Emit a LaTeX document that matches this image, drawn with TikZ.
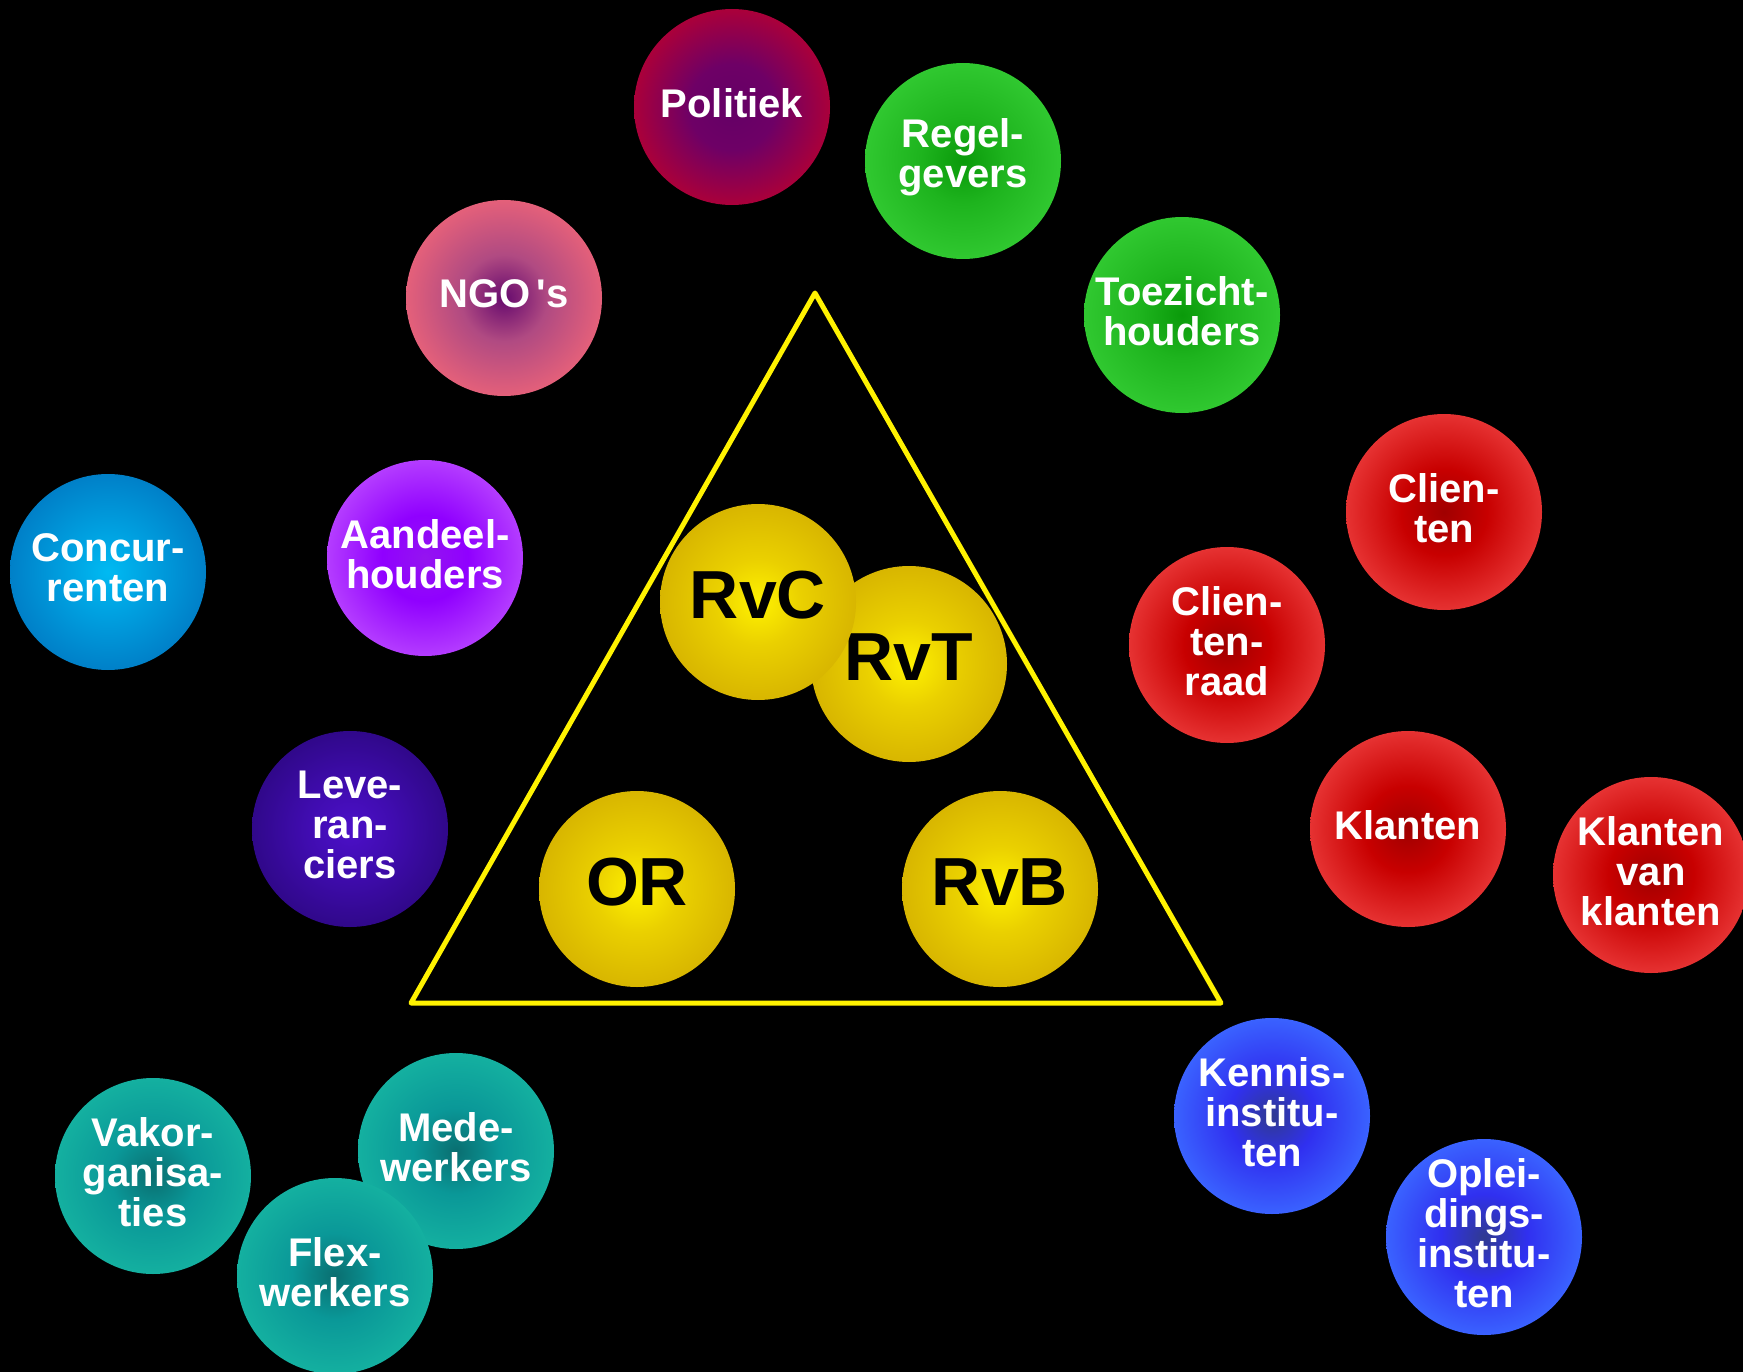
\documentclass[tikz,border=0pt]{standalone}
\usepackage{fontspec}
\setmainfont{Liberation Sans}
\definecolor{polA}{HTML}{640066}\definecolor{polB}{HTML}{6E0066}\definecolor{polC}{HTML}{AA003A}
\definecolor{grA}{HTML}{0A9A0A}\definecolor{grB}{HTML}{1EB41E}\definecolor{grC}{HTML}{30C830}
\definecolor{ngA}{HTML}{660A6E}\definecolor{ngB}{HTML}{B04A82}\definecolor{ngC}{HTML}{E4607A}
\definecolor{cuA}{HTML}{00BAF2}\definecolor{cuB}{HTML}{00A0E0}\definecolor{cuC}{HTML}{0080C8}
\definecolor{aaA}{HTML}{9414F0}\definecolor{aaB}{HTML}{9000FF}\definecolor{aaC}{HTML}{B43CFF}
\definecolor{reA}{HTML}{A00000}\definecolor{reB}{HTML}{C80000}\definecolor{reC}{HTML}{E63232}
\definecolor{yeA}{HTML}{FFF200}\definecolor{yeB}{HTML}{EAD000}\definecolor{yeC}{HTML}{D8B600}
\definecolor{leA}{HTML}{4C10C8}\definecolor{leB}{HTML}{400CB0}\definecolor{leC}{HTML}{30088A}
\definecolor{tiA}{HTML}{0A6E70}\definecolor{tiB}{HTML}{0A9898}\definecolor{tiC}{HTML}{14B0A0}
\definecolor{blA}{HTML}{303A90}\definecolor{blB}{HTML}{3030F0}\definecolor{blC}{HTML}{3A62FF}
\newcommand\mkball[4]{\pgfdeclareradialshading{#1}{\pgfpoint{0bp}{0bp}}{color(0bp)=(#2); color(11bp)=(#3); color(25bp)=(#4); color(50bp)=(#4)}}
\mkball{polsh}{polA}{polB}{polC}
\mkball{grsh}{grA}{grB}{grC}
\mkball{ngsh}{ngA}{ngB}{ngC}
\mkball{cush}{cuA}{cuB}{cuC}
\mkball{aash}{aaA}{aaB}{aaC}
\mkball{resh}{reA}{reB}{reC}
\mkball{yesh}{yeA}{yeB}{yeC}
\mkball{lesh}{leA}{leB}{leC}
\mkball{tish}{tiA}{tiB}{tiC}
\mkball{blsh}{blA}{blB}{blC}
\tikzset{
  ball/.style={circle, minimum size=196pt, inner sep=0pt, shade, shading=#1},
  wt/.style={text=white, align=center, font=\fontsize{40}{40}\selectfont\bfseries, inner sep=0pt, yshift=4pt},
  bt/.style={text=black, align=center, font=\fontsize{68}{68}\selectfont\bfseries, inner sep=0pt, yshift=7pt},
  tri/.style={draw=yellow, line width=5pt, line join=round}
}
\begin{document}
\begin{tikzpicture}[x=1pt, y=-1pt]
\fill[black] (0,0) rectangle (1743,1372);
\useasboundingbox (0,0) rectangle (1743,1372);
% triangle
\coordinate (apex) at (815,293);
\coordinate (bl) at (411,1003);
\coordinate (br) at (1221,1003);
\draw[tri] (apex) -- (bl) -- (br) -- cycle;
% outer circles
\node[ball=polsh] (pol) at (732,107) {};
\node[wt] at (pol) {Politiek};
\node[ball=grsh] (reg) at (963,161) {};
\node[wt] at (reg) {Regel-\\gevers};
\node[ball=ngsh] (ngo) at (504,298) {};
\node[wt] at (ngo) {NGO\,\textquotesingle s};
\node[ball=grsh] (toe) at (1182,315) {};
\node[wt] at (toe) {Toezicht-\\houders};
\node[ball=cush] (con) at (108,572) {};
\node[wt] at (con) {Concur-\\renten};
\node[ball=aash] (aan) at (425,558) {};
\node[wt] at (aan) {Aandeel-\\houders};
\node[ball=resh] (cli) at (1444,512) {};
\node[wt] at (cli) {Clien-\\ten};
\node[ball=resh] (clr) at (1227,645) {};
\node[wt] at (clr) {Clien-\\ten-\\raad};
\node[ball=lesh] (lev) at (350,829) {};
\node[wt] at (lev) {Leve-\\ran-\\ciers};
\node[ball=resh] (kla) at (1408,829) {};
\node[wt] at (kla) {Klanten};
\node[ball=resh] (kvk) at (1651,875) {};
\node[wt] at (kvk) {Klanten\\van\\klanten};
\node[ball=blsh] (ken) at (1272,1116) {};
\node[wt] at (ken) {Kennis-\\institu-\\ten};
\node[ball=blsh] (opl) at (1484,1237) {};
\node[wt] at (opl) {Oplei-\\dings-\\institu-\\ten};
\node[ball=tish] (vak) at (153,1176) {};
\node[wt] at (vak) {Vakor-\\ganisa-\\ties};
\node[ball=tish] (med) at (456,1151) {};
\node[wt] at (med) {Mede-\\werkers};
\node[ball=tish] (fle) at (335,1276) {};
\node[wt] at (fle) {Flex-\\werkers};
% inner circles
\node[ball=yesh] (rvt) at (909,664) {};
\node[bt] at (rvt) {RvT};
\node[ball=yesh] (rvc) at (758,602) {};
\node[bt] at (rvc) {RvC};
\node[ball=yesh] (or) at (637,889) {};
\node[bt] at (or) {OR};
\node[ball=yesh] (rvb) at (1000,889) {};
\node[bt] at (rvb) {RvB};
\end{tikzpicture}
\end{document}
